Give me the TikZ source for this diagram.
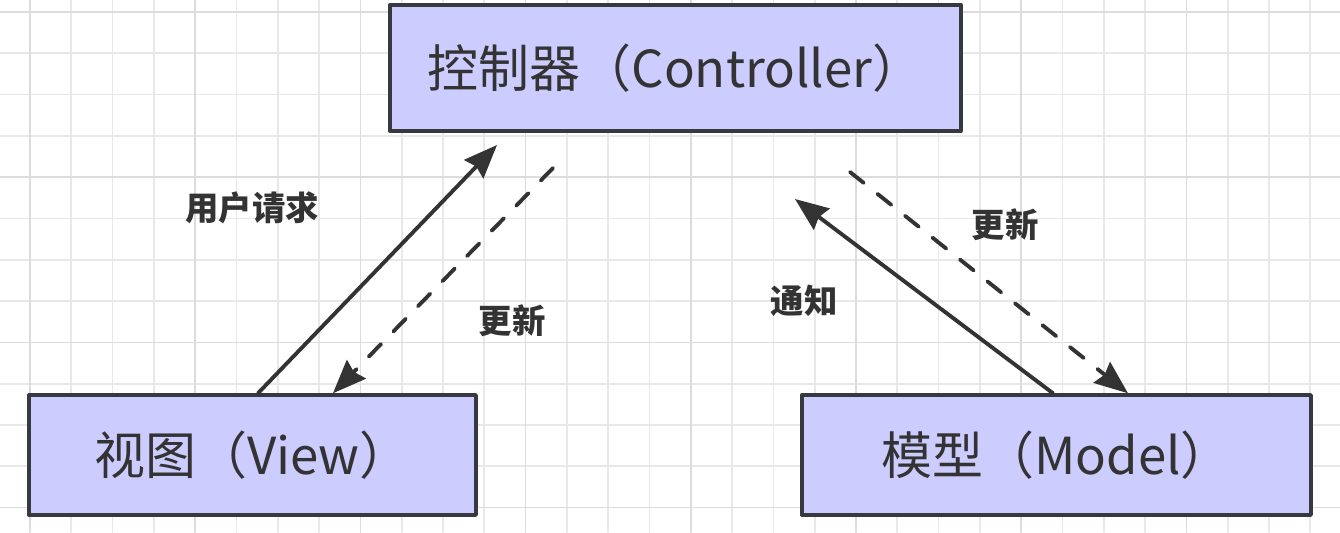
\documentclass[tikz,border=0pt]{standalone}
\usepackage{fontspec}
\setmainfont{Noto Sans CJK SC}
\usetikzlibrary{arrows.meta}
\definecolor{boxfill}{HTML}{CCCCFF}
\definecolor{boxline}{HTML}{36393D}
\definecolor{inkgray}{HTML}{333333}
\definecolor{gridminor}{HTML}{E8E8E8}
\definecolor{gridmajor}{HTML}{DCDCDC}

\begin{document}
\begin{tikzpicture}[line cap=round,line join=round,x=0.02cm,y=-0.02cm,
	mvcbox/.style={draw=boxline,fill=boxfill,line width=2pt,text=inkgray,font=\fontsize{29}{33}\selectfont,inner sep=0pt},
	lbl/.style={text=inkgray,font=\fontsize{19}{22}\selectfont\bfseries,inner sep=0pt},
	flow/.style={draw=inkgray,line width=2.2pt,-{Stealth[length=19pt,width=15pt,inset=2pt]}},
	flowdash/.style={flow,dash pattern=on 10pt off 10pt}]
	\useasboundingbox (0,0) rectangle (1340,532);
	\fill[white] (0,0) rectangle (1340,532);
	% grid
	\foreach \i in {0,...,31} \draw[gridminor,line width=1pt] ({30+41.3*\i},0) -- ({30+41.3*\i},532);
	\foreach \j in {0,...,12} \draw[gridminor,line width=1pt] (0,{12+41.3*\j}) -- (1340,{12+41.3*\j});
	\foreach \i in {0,4,...,28} \draw[gridmajor,line width=1pt] ({30+41.3*\i},0) -- ({30+41.3*\i},532);
	\foreach \j in {0,4,...,12} \draw[gridmajor,line width=1pt] (0,{12+41.3*\j}) -- (1340,{12+41.3*\j});
	% boxes
	\node[mvcbox,minimum width=11.42cm,minimum height=2.52cm] (ctrl) at (675.5,68) {控制器（Controller）};
	\node[mvcbox,minimum width=8.94cm,minimum height=2.4cm] (view) at (252.5,455) {视图（View）};
	\node[mvcbox,minimum width=10.18cm,minimum height=2.4cm] (model) at (1056.5,455) {模型（Model）};
	% free ends near the controller
	\coordinate (req) at (497,145);
	\coordinate (upd1) at (553,168);
	\coordinate (ntf) at (795,199);
	\coordinate (upd2) at (850,172);
	\draw[flow] ([xshift=0.11cm]view.north) -- (req);
	\draw[flowdash] (upd1) -- ([xshift=1.61cm]view.north);
	\draw[flow] ([xshift=-0.07cm]model.north) -- (ntf);
	\draw[flowdash] (upd2) -- ([xshift=1.43cm]model.north);
	% labels
	\node[lbl] (lreq) at (252,208) {用户请求};
	\node[lbl] (lupd1) at (512,321) {更新};
	\node[lbl] (lntf) at (804,301) {通知};
	\node[lbl] (lupd2) at (1005,225) {更新};
\end{tikzpicture}
\end{document}
